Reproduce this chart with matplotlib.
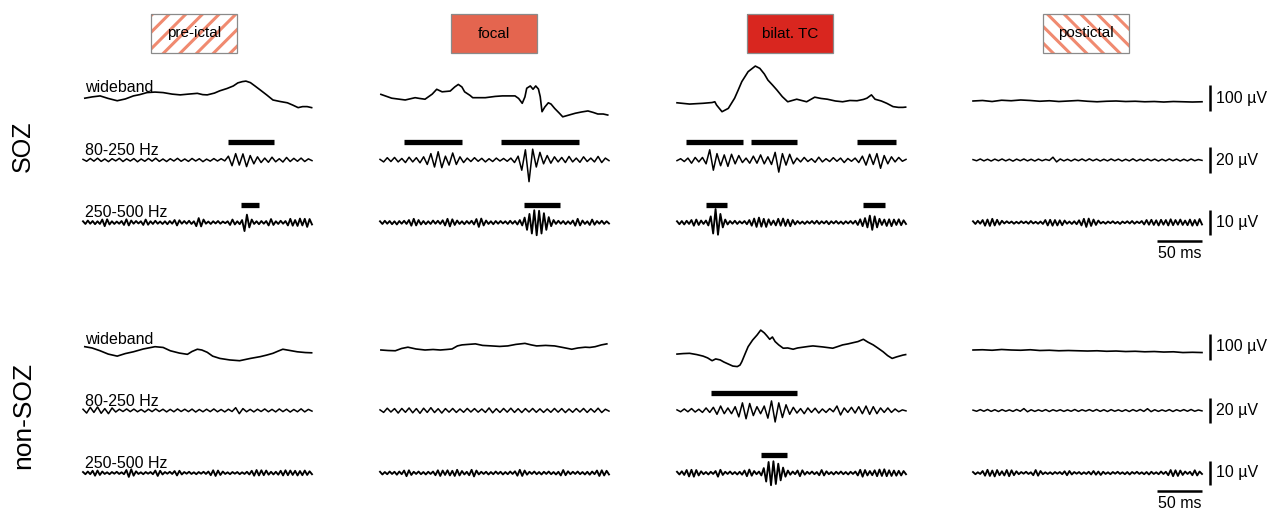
import numpy as np
import matplotlib
matplotlib.use("Agg")
import matplotlib.pyplot as plt
from matplotlib.patches import Rectangle

plt.rcParams['font.family'] = ['Liberation Sans', 'DejaVu Sans']
plt.rcParams['hatch.linewidth'] = 2.2

# ---------------- data ----------------
phases = ["pre-ictal", "focal", "bilat. TC", "postictal"]
regions = ["SOZ", "non-SOZ"]
bands = ["wideband", "80-250 Hz", "250-500 Hz"]
scale_values = [100, 20, 10]          # µV
scale_labels = ["100 µV", "20 µV", "10 µV"]
time_bar_ms = 50
time_bar_label = "50 ms"
duration_ms = 254.4

# wideband traces: sample times (ms) and values (µV)
soz_pre_wb_t = [2,10,19,28,38,47,56,63,71,80,89,99,108,117,127,133,138,146,152,160,167,172,177,181,186,191,197,204,211,219,227,233,239,244,249,254]
soz_pre_wb_v = [11,16,20,10,1,8,20,25,33,35,33,27,24,27,30,25,24,31,40,49,59,71,76,78,72,59,43,24,4,-2,-7,-16,-26,-22,-22,-26]
soz_foc_wb_t = [1,13,28,39,44,50,58,63,69,78,83,87,91,94,100,103,117,128,136,150,154,158,161,163,167,170,173,176,178,180,183,187,190,194,199,203,210,217,224,231,237,242,248,253]
soz_foc_wb_v = [26,11,4,13,10,7,27,46,36,39,55,65,55,36,22,13,13,18,20,20,10,-9,16,50,59,46,59,47,17,-42,-24,-7,-12,-29,-47,-62,-55,-48,-43,-39,-45,-51,-51,-55]
soz_bil_wb_t = [0,14,29,39,42,44,50,57,64,68,72,79,87,92,97,101,106,111,117,123,133,144,153,160,167,176,184,192,200,207,211,216,220,227,233,240,246,251,254]
soz_bil_wb_v = [-7,-12,-9,-6,-3,-16,-42,-29,11,43,76,115,137,128,106,82,63,43,17,-3,7,-3,15,10,7,0,-3,2,1,6,11,24,7,0,-9,-22,-25,-25,-24]
soz_pst_wb_v = [0,2,-2,3,1,4,2,-1,1,-2,0,2,-1,-3,-1,0,-2,-1,-3,-2,-4,-2,-3,-4,-3]

non_pre_wb_t = [2,10,19,28,38,47,56,67,80,89,97,107,116,121,127,132,138,144,152,163,174,186,197,204,211,217,222,230,238,247,254]
non_pre_wb_v = [13,8,-3,-16,-24,-14,-7,4,13,10,-3,-12,-17,-6,3,0,-9,-24,-33,-39,-42,-33,-26,-20,-13,-4,3,-2,-7,-10,-11]
non_foc_wb_t = [1,9,17,24,31,40,50,59,67,74,80,86,91,98,106,114,124,133,142,151,161,168,174,184,194,203,213,220,228,233,239,246,252]
non_foc_wb_v = [0,-2,-3,6,11,4,0,2,0,2,4,16,20,22,24,18,16,14,16,22,26,20,16,18,16,10,3,8,11,10,13,20,24]
non_bil_wb_t = [0,7,14,22,29,34,39,43,48,52,57,62,67,70,72,76,79,84,89,93,97,100,103,106,109,113,118,123,129,134,140,146,151,162,173,179,184,190,196,201,207,212,218,223,229,234,239,244,251,254]
non_bil_wb_v = [-16,-14,-13,-18,-24,-31,-42,-35,-39,-47,-55,-63,-65,-59,-46,-12,13,39,59,78,67,55,42,51,33,20,7,8,3,8,11,14,16,12,7,14,20,24,29,33,42,31,20,8,-7,-22,-33,-27,-20,-18]
non_pst_wb_v = [0,1,-1,2,0,-1,1,-2,-1,-3,-2,-3,-4,-3,-5,-4,-6,-5,-7,-6,-8,-7,-10,-9,-10]

# 80-250 Hz traces (µV, evenly sampled over the window)
soz_pre_hf1 = [0.5,-1.0,1.2,-0.9,1.4,-1.1,0.8,-1.3,1.0,-0.7,1.3,-1.2,0.9,-0.8,1.1,-1.4,0.8,-1.0,1.2,-0.9,1.4,-1.1,0.8,-1.2,1.0,-0.8,1.3,-1.0,0.8,-1.1,1.2,-0.8,1.0,-1.3,0.7,-0.9,1.1,-0.8,1.0,-0.7,3.0,-4.5,5.0,-4.0,4.8,-5.2,3.5,-3.0,2.5,-2.0,1.5,-1.8,2.2,-1.4,1.0,-1.6,2.0,-1.2,1.3,-1.0,1.5,-1.2,0.9,-0.5]
soz_foc_hf1 = [0.5,-1.5,1.8,-1.2,2.0,-1.5,1.2,-2.0,2.2,-1.5,1.8,-2.2,2.5,-3.5,5.0,-5.5,6.5,-6.0,3.0,-4.0,5.5,-3.5,2.5,-2.0,1.5,-1.2,1.8,-1.0,1.3,-1.5,1.0,-1.2,1.5,-0.8,1.2,-1.0,1.5,-2.0,3.0,-8.0,8.0,-17.0,8.5,-5.5,6.0,-3.0,3.5,-2.5,2.5,-1.5,2.0,-2.0,2.8,-1.5,1.5,-1.8,2.5,-1.2,1.5,-1.5,2.8,-2.0,1.5,-0.5]
soz_bil_hf1 = [-0.5,1.0,-1.2,1.5,-2.5,2.0,-1.5,2.0,-3.0,8.0,-8.0,5.0,-4.5,4.0,-5.0,4.5,-3.0,3.5,-2.0,1.5,-2.5,3.0,-2.5,4.0,-3.0,2.5,-3.5,6.0,-9.5,5.0,-4.0,4.5,-3.0,1.5,-1.5,2.0,-1.2,1.0,-1.8,2.2,-1.5,1.0,-1.2,1.8,-1.0,1.5,-2.0,1.2,-1.0,1.5,-2.0,3.0,-4.0,4.5,-3.5,5.0,-6.5,3.5,-3.0,2.5,-1.5,2.0,-1.0,0.5]
soz_pst_hf1 = [0.3,-0.6,0.8,-0.7,0.6,-0.8,0.7,-0.6,0.8,-0.7,0.6,-0.9,0.7,-0.6,0.8,-0.7,0.6,-0.8,0.7,-0.6,0.5,-0.4,2.2,-1.5,0.8,-0.7,0.6,-0.8,0.7,-0.6,0.8,-0.7,0.9,-0.6,0.7,-0.8,0.6,-0.7,0.8,-0.6,0.7,-0.8,0.6,-0.7,0.9,-0.8,0.6,-0.7,0.8,-0.6,0.7,-0.8,0.6,-0.7,0.8,-0.6,0.7,-0.8,0.6,-0.7,0.8,-0.6,0.4,-0.3]
non_pre_hf1 = [1.0,-2.0,2.5,-1.5,2.8,-2.2,1.5,-2.5,2.0,-1.2,1.0,-0.8,1.2,-0.9,1.1,-1.0,0.8,-1.2,1.0,-0.9,1.2,-0.8,1.0,-1.1,0.9,-1.0,1.2,-0.8,1.0,-0.9,1.1,-1.2,0.8,-1.0,1.0,-0.9,1.2,-1.0,0.8,-1.1,1.0,-0.8,2.2,-2.5,1.5,-1.0,0.9,-1.1,1.0,-0.8,1.2,-1.0,0.9,-1.1,1.2,-0.9,1.0,-1.2,0.8,-1.0,1.3,-1.1,0.9,-0.5]
non_foc_hf1 = [0.5,-1.5,1.8,-1.2,1.5,-2.0,1.6,-1.4,2.0,-1.8,1.5,-2.2,1.8,-1.5,2.2,-1.6,1.4,-2.0,1.5,-1.3,1.6,-1.5,1.2,-1.4,1.6,-1.2,1.5,-1.3,1.2,-1.5,2.0,-1.8,1.4,-1.5,1.6,-1.3,1.8,-1.5,1.4,-1.6,1.5,-1.2,1.6,-1.4,1.3,-1.5,1.2,-1.4,1.6,-1.3,1.5,-1.6,1.2,-1.4,1.5,-1.2,1.6,-1.5,1.4,-1.3,1.8,-1.6,1.0,-0.5]
non_bil_hf1 = [0.5,-1.0,1.2,-1.0,1.5,-1.2,1.0,-1.5,2.0,-1.5,2.5,-3.0,3.5,-2.5,2.0,-2.5,3.0,-5.0,6.0,-6.5,5.5,-4.0,3.0,-2.5,3.5,-6.0,7.5,-9.0,6.0,-5.5,4.5,-3.0,2.5,-2.0,1.5,-2.5,2.0,-1.5,1.8,-2.0,1.2,-1.5,1.5,-1.0,3.5,-3.5,2.0,-1.5,2.5,-2.0,3.0,-2.5,3.5,-3.0,3.0,-2.5,2.0,-1.5,2.0,-1.5,1.2,-1.0,0.5,-0.3]
non_pst_hf1 = [0.3,-0.6,0.7,-0.6,0.8,-0.7,0.6,-0.8,0.7,-0.6,0.5,-0.7,0.8,-0.6,1.5,-1.0,0.6,-0.7,0.5,-0.6,0.7,-0.8,0.6,-0.5,0.6,-0.7,0.5,-0.6,0.8,-0.7,0.6,-0.5,0.7,-0.6,0.8,-0.7,0.6,-0.8,0.7,-0.6,0.5,-0.7,0.6,-0.8,0.7,-0.6,0.8,-0.7,1.4,-0.9,0.6,-0.7,0.5,-0.6,0.7,-0.8,0.6,-0.5,0.7,-0.6,0.8,-0.6,0.4,-0.3]

# 250-500 Hz traces (µV, evenly sampled over the window)
soz_pre_hf2 = [0.5,-0.6,0.8,-0.5,0.6,-0.7,0.5,-0.6,1.2,-1.5,1.3,-0.8,0.5,-0.6,0.4,-0.5,0.6,-1.0,1.3,-1.2,0.8,-0.5,0.6,-0.4,0.5,-1.0,1.2,-0.9,0.5,-0.6,0.7,-0.5,0.4,-0.6,0.5,-0.7,0.6,-0.5,1.0,-1.2,0.9,-0.5,0.6,-0.5,0.7,-0.6,0.5,-1.5,1.8,-1.6,1.2,-0.5,0.4,-0.6,0.5,-0.4,0.6,-0.5,0.4,-0.3,0.5,-1.0,1.2,-0.8,0.5,-0.7,1.0,-3.5,3.2,-2.0,1.2,-0.6,0.5,-0.7,0.6,-0.5,0.6,-1.2,1.4,-1.0,0.5,-0.6,0.7,-0.5,0.6,-1.2,1.5,-1.3,1.0,-1.4,1.6,-1.2,1.5,-1.8,1.4,-0.8]
soz_foc_hf2 = [0.5,-0.6,0.7,-0.5,0.6,-0.7,0.5,-0.8,0.6,-0.5,0.7,-0.6,1.0,-1.3,1.5,-1.2,1.0,-0.8,0.6,-0.7,0.5,-0.6,0.8,-0.5,0.7,-0.6,0.9,-1.2,1.5,-1.6,1.3,-1.0,0.8,-0.6,0.5,-0.7,0.6,-0.5,0.7,-0.8,1.4,-1.8,1.6,-1.2,0.8,-0.6,0.5,-0.7,0.6,-0.5,0.6,-0.4,0.5,-0.6,0.7,-0.5,0.6,-0.8,1.0,-1.2,2.0,-3.0,3.5,-4.5,5.0,-5.2,4.8,-4.5,3.8,-3.0,2.2,-1.5,1.0,-0.6,0.7,-0.5,0.6,-0.7,0.5,-0.6,0.8,-1.3,1.5,-1.2,0.8,-0.6,0.5,-1.0,1.2,-0.9,0.6,-0.5,0.7,-0.6,0.5,-0.4]
soz_bil_hf2 = [0.5,-0.7,0.6,-0.8,0.7,-0.6,1.0,-1.3,1.2,-1.0,0.8,-0.6,0.8,-1.2,2.5,-4.5,5.5,-5.0,3.5,-2.0,1.2,-0.8,0.6,-0.5,0.7,-0.6,0.5,-0.4,0.6,-0.7,1.0,-1.3,1.6,-1.8,2.0,-1.7,1.5,-1.8,1.3,-1.0,0.8,-1.2,1.5,-1.3,1.6,-1.4,1.2,-1.5,1.0,-0.8,0.6,-0.5,0.4,-0.6,0.5,-0.4,0.6,-0.5,0.7,-0.6,0.5,-0.4,0.6,-0.7,0.5,-0.4,0.6,-0.5,0.4,-0.6,0.5,-0.4,0.6,-0.5,0.7,-1.0,1.3,-1.5,1.8,-2.0,2.8,-3.0,2.5,-2.0,1.5,-1.0,1.2,-1.4,1.3,-1.5,1.2,-1.0,1.3,-1.1,0.9,-0.6]
soz_pst_hf2 = [0.5,-0.6,0.7,-0.5,1.0,-1.3,1.2,-1.4,1.5,-1.2,1.1,-0.9,0.7,-0.4,0.5,-0.3,0.4,-0.5,0.3,-0.4,0.5,-0.3,0.4,-0.5,0.6,-0.4,0.3,-0.5,0.4,-0.6,1.0,-1.2,1.1,-1.3,1.0,-1.2,0.9,-1.1,0.8,-0.5,0.4,-0.6,0.5,-0.7,0.9,-1.2,1.5,-1.8,1.6,-1.4,1.2,-1.0,0.8,-0.4,0.3,-0.5,0.4,-0.3,0.5,-0.4,0.3,-0.6,0.4,-0.3,0.5,-0.4,0.6,-0.5,0.4,-0.3,0.6,-0.8,1.0,-0.9,1.1,-1.0,0.9,-1.2,1.1,-0.9,1.0,-1.2,1.3,-1.1,1.0,-0.9,1.2,-1.0,0.8,-1.1,1.2,-1.3,1.0,-1.2,1.4,-0.8]
non_pre_hf2 = [0.4,-0.5,0.6,-0.5,0.9,-1.1,1.0,-0.8,0.6,-0.4,0.3,-0.5,0.4,-0.3,0.5,-0.4,0.3,-0.5,1.2,-1.6,1.5,-1.1,0.7,-0.4,0.3,-0.5,0.4,-0.3,0.4,-0.5,1.0,-1.2,0.9,-0.6,0.4,-0.3,0.5,-0.4,0.8,-1.0,0.9,-0.6,0.4,-0.3,0.5,-0.4,0.3,-0.5,0.4,-0.3,0.5,-0.4,0.6,-0.9,1.1,-1.2,1.0,-0.8,0.6,-0.4,0.3,-0.5,0.4,-0.3,0.4,-0.5,0.3,-0.4,0.5,-0.6,0.9,-1.1,1.2,-1.0,1.1,-0.9,1.0,-0.7,0.5,-0.6,0.5,-0.7,0.9,-1.0,1.1,-0.9,1.0,-0.8,0.9,-1.0,0.8,-0.9,1.0,-0.8,0.7,-0.5]
non_foc_hf2 = [0.5,-0.6,0.4,-0.5,0.6,-0.4,0.5,-0.7,0.6,-0.5,1.0,-1.3,1.1,-0.8,0.5,-0.4,0.6,-0.5,0.4,-0.6,0.5,-0.4,0.6,-0.9,1.1,-1.2,1.0,-0.8,1.1,-1.0,0.9,-1.2,1.3,-1.0,0.8,-0.6,0.5,-0.9,1.3,-1.4,1.0,-0.6,0.5,-0.4,0.5,-0.6,0.4,-0.5,0.6,-0.4,0.5,-0.6,0.4,-0.5,0.6,-0.4,0.7,-1.1,1.3,-1.2,1.0,-0.7,0.5,-0.4,0.6,-0.5,0.4,-0.6,0.5,-0.4,0.6,-0.5,0.4,-0.6,0.5,-1.0,1.2,-0.9,0.7,-0.5,0.5,-0.4,0.6,-0.5,0.4,-0.6,0.5,-0.7,0.6,-0.5,1.0,-1.2,1.1,-1.0,0.9,-0.6]
non_bil_hf2 = [0.5,-0.6,0.7,-0.8,1.2,-1.4,1.3,-1.5,1.2,-1.0,0.7,-0.5,0.4,-0.6,0.5,-0.4,0.8,-1.5,1.3,-0.8,0.5,-0.4,0.6,-0.5,0.4,-0.6,0.5,-0.7,1.0,-1.3,1.4,-1.1,0.8,-0.5,0.6,-1.0,2.0,-3.5,4.5,-5.0,4.8,-4.5,3.8,-3.0,2.2,-1.5,1.0,-0.7,0.6,-0.5,1.0,-1.3,1.1,-0.7,0.5,-0.4,0.6,-0.5,0.4,-0.9,1.2,-1.0,0.7,-0.5,0.4,-0.6,0.5,-0.4,0.6,-0.5,0.4,-0.6,0.5,-0.4,0.6,-1.0,1.3,-1.5,1.2,-1.0,0.8,-0.9,1.1,-1.3,1.4,-1.2,1.5,-1.3,1.1,-1.2,1.0,-1.1,0.9,-1.0,0.8,-0.5]
non_pst_hf2 = [0.4,-0.5,0.3,-0.4,0.8,-1.1,1.3,-1.2,1.0,-1.4,1.2,-0.9,0.7,-1.0,1.2,-1.3,1.1,-0.9,0.7,-0.5,0.4,-0.3,0.5,-0.4,0.3,-0.9,1.2,-1.1,0.8,-0.5,0.3,-0.4,0.3,-0.5,0.4,-0.3,0.4,-0.5,0.7,-0.9,0.8,-0.6,0.4,-0.3,0.4,-0.5,0.3,-0.4,0.5,-0.6,0.8,-0.7,0.6,-0.8,0.5,-0.4,0.3,-0.5,0.4,-0.3,0.5,-0.4,0.3,-0.5,0.4,-0.6,0.4,-0.3,0.5,-0.4,0.3,-0.5,0.4,-0.6,0.5,-0.4,0.3,-0.5,0.6,-0.4,0.5,-0.9,1.2,-1.3,1.1,-1.2,1.0,-0.8,0.6,-0.4,0.5,-0.9,1.1,-1.0,0.6,-0.4]

# detected HFO events: (region, phase, band index, start ms, end ms)
events = [
    ("SOZ", "pre-ictal", 1, 161, 212),
    ("SOZ", "pre-ictal", 2, 176, 196),
    ("SOZ", "focal", 1, 27, 91),
    ("SOZ", "focal", 1, 134, 221),
    ("SOZ", "focal", 2, 160, 200),
    ("SOZ", "bilat. TC", 1, 10, 73),
    ("SOZ", "bilat. TC", 1, 82, 133),
    ("SOZ", "bilat. TC", 1, 200, 243),
    ("SOZ", "bilat. TC", 2, 32, 56),
    ("SOZ", "bilat. TC", 2, 207, 231),
    ("non-SOZ", "bilat. TC", 1, 38, 133),
    ("non-SOZ", "bilat. TC", 2, 93, 122),
]

traces = {
    ("SOZ", "pre-ictal"): [(soz_pre_wb_t, soz_pre_wb_v), (None, soz_pre_hf1), (None, soz_pre_hf2)],
    ("SOZ", "focal"): [(soz_foc_wb_t, soz_foc_wb_v), (None, soz_foc_hf1), (None, soz_foc_hf2)],
    ("SOZ", "bilat. TC"): [(soz_bil_wb_t, soz_bil_wb_v), (None, soz_bil_hf1), (None, soz_bil_hf2)],
    ("SOZ", "postictal"): [(None, soz_pst_wb_v), (None, soz_pst_hf1), (None, soz_pst_hf2)],
    ("non-SOZ", "pre-ictal"): [(non_pre_wb_t, non_pre_wb_v), (None, non_pre_hf1), (None, non_pre_hf2)],
    ("non-SOZ", "focal"): [(non_foc_wb_t, non_foc_wb_v), (None, non_foc_hf1), (None, non_foc_hf2)],
    ("non-SOZ", "bilat. TC"): [(non_bil_wb_t, non_bil_wb_v), (None, non_bil_hf1), (None, non_bil_hf2)],
    ("non-SOZ", "postictal"): [(None, non_pst_wb_v), (None, non_pst_hf1), (None, non_pst_hf2)],
}

# ---------------- layout / style ----------------
W, H, DPI = 1268, 512, 100
col_x0 = [83, 380, 677, 973]
trace_w = 229
row_y = {"SOZ": [101, 160, 222.5], "non-SOZ": [350, 410.5, 473]}
px_per_uV = [0.255, 1.275, 2.45]
trace_lw = [1.2, 1.1, 1.35]
label_base = {"SOZ": [91.5, 155, 217], "non-SOZ": [344, 406, 468]}
region_label_y = {"SOZ": 146, "non-SOZ": 415}
region_label_size = {"SOZ": 18, "non-SOZ": 19}
header_cx = [194, 494, 790, 1086]
header_face = [None, "#E4654F", "#D9261F", None]
header_hatch = ["//", None, None, "\\\\"]
hatch_color = "#F08A70"
bar_offset_px = 18
scale_center_px = [-3, 0, 0]

fig = plt.figure(figsize=(W / DPI, H / DPI), dpi=DPI)


def px_axes(x, y, w, h):
    ax = fig.add_axes([x / W, 1 - (y + h) / H, w / W, h / H])
    ax.set_axis_off()
    return ax


axes = {}
for reg in regions:
    for ci, ph in enumerate(phases):
        for bi in range(3):
            half = 40
            ax = px_axes(col_x0[ci], row_y[reg][bi] - half, trace_w, 2 * half)
            ax.set_xlim(0, duration_ms)
            ax.set_ylim(-half / px_per_uV[bi], half / px_per_uV[bi])
            tt, vv = traces[(reg, ph)][bi]
            if tt is None:
                tt = np.linspace(0, duration_ms, len(vv))
            ax.plot(tt, vv, color="black", lw=trace_lw[bi], clip_on=False, solid_joinstyle="round")
            axes[(reg, ph, bi)] = ax

# event bars
for reg, ph, bi, t0, t1 in events:
    ax = axes[(reg, ph, bi)]
    yb = bar_offset_px / px_per_uV[bi]
    ax.plot([t0, t1], [yb, yb], color="black", lw=3.8, solid_capstyle="butt", clip_on=False)

# scale bars and labels (right of the last column)
for reg in regions:
    for bi in range(3):
        ax = axes[(reg, "postictal", bi)]
        c = -scale_center_px[bi] / px_per_uV[bi]
        hv = scale_values[bi] / 2
        ax.plot([263, 263], [c - hv, c + hv], color="black", lw=1.8, solid_capstyle="butt", clip_on=False)
        ax.text(269.5, c, scale_labels[bi], fontsize=11.5, va="center", ha="left", clip_on=False)
    ax = axes[(reg, "postictal", 2)]
    yb = -18 / px_per_uV[2]
    ax.plot([duration_ms - time_bar_ms, duration_ms], [yb, yb], color="black", lw=1.8,
            solid_capstyle="butt", clip_on=False)
    ax.text(duration_ms - time_bar_ms / 2, -31 / px_per_uV[2], time_bar_label, fontsize=11.5,
            ha="center", va="center", clip_on=False)

# band labels and region labels
for reg in regions:
    for bi, b in enumerate(bands):
        fig.text(85 / W, 1 - label_base[reg][bi] / H, b, fontsize=11.5, ha="left", va="baseline")
    fig.text(23 / W, 1 - region_label_y[reg] / H, reg, fontsize=region_label_size[reg],
             rotation=90, ha="center", va="center")

# phase headers
bw, bh, by = 86, 39, 14
for ci, ph in enumerate(phases):
    x = header_cx[ci] - bw / 2
    rect = (x / W, 1 - (by + bh) / H)
    if header_hatch[ci]:
        fig.add_artist(Rectangle(rect, bw / W, bh / H, transform=fig.transFigure,
                                 facecolor="white", edgecolor=hatch_color,
                                 hatch=header_hatch[ci], lw=0))
    else:
        fig.add_artist(Rectangle(rect, bw / W, bh / H, transform=fig.transFigure,
                                 facecolor=header_face[ci], edgecolor="none", lw=0))
    fig.add_artist(Rectangle(rect, bw / W, bh / H, transform=fig.transFigure,
                             fill=False, edgecolor="#8a8a8a", lw=0.9))
    fig.text(header_cx[ci] / W, 1 - (by + bh / 2) / H, ph, fontsize=11,
             ha="center", va="center")

fig.savefig("out.png", dpi=DPI)
